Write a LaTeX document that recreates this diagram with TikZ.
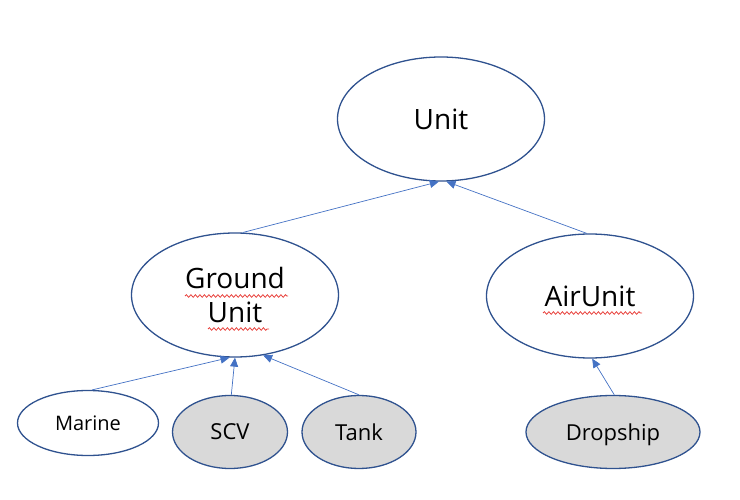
\documentclass[tikz,border=0pt]{standalone}
\usepackage{fontspec}
\setmainfont{Open Sans}
\usetikzlibrary{shapes,arrows.meta,positioning,calc,decorations.pathmorphing}
\definecolor{ovalblue}{HTML}{2F528F}
\definecolor{arrowblue}{HTML}{4472C4}
\definecolor{ovalgray}{HTML}{D9D9D9}
\definecolor{spellred}{HTML}{E8413C}

\begin{document}
\begin{tikzpicture}[x=1pt, y=1pt, ->, >={Triangle[length=9pt,width=8pt]},
line width = 0.7pt, node distance = 176pt,
class/.style={ellipse, draw=ovalblue, line width=1.3pt, inner sep=0pt,
  align=center, font=\fontsize{28}{34}\selectfont,
  minimum width=207pt, minimum height=124pt},
leaf/.style={ellipse, draw=ovalblue, line width=1.3pt, inner sep=0pt,
  text depth=0pt, font=\fontsize{22}{26}\selectfont, minimum height=73pt},
isa/.style={draw=arrowblue},
squiggle/.style={-, draw=spellred, line width=0.8pt, decorate,
  decoration={snake, amplitude=1.3pt, segment length=4.5pt}}]

\useasboundingbox (0,-500) rectangle (740,0);

\node [class] (unit) at (441,-119) {Unit};
\node [class] (ground) [below of=unit, xshift=-206pt] {Ground\\Unit};
\node [class] (air) [below of=unit, xshift=149pt, yshift=-1pt] {AirUnit};

\node [leaf, fill=white, minimum width=141pt, minimum height=65pt,
  font=\fontsize{20}{24}\selectfont]
  (marine) [node distance=128pt, below of=ground, xshift=-147pt] {Marine};
\node [leaf, fill=ovalgray, minimum width=115pt]
  (scv) [node distance=137pt, below of=ground, xshift=-5pt] {SCV};
\node [leaf, fill=ovalgray, minimum width=114pt]
  (tank) [node distance=137pt, below of=ground, xshift=124pt] {Tank};
\node [leaf, fill=ovalgray, minimum width=174pt]
  (dropship) [node distance=136pt, below of=air, xshift=23pt] {Dropship};

\path (ground.83) edge [isa] (unit.-92);
\path (air.93) edge [isa] (unit.-85);

\path (marine.83) edge [isa] (ground.-95);
\path (scv.88) edge [isa] (ground.-90);
\path (tank.90) edge [isa] (ground.-65);

\path (dropship.88) edge [isa] (air.-88);

% spell check marks
\draw [squiggle] ($(ground)+(-50,-1)$) -- ($(ground)+(53,-1)$);
\draw [squiggle] ($(ground)+(-27,-34)$) -- ($(ground)+(34,-34)$);
\draw [squiggle] ($(air)+(-47,-17)$) -- ($(air)+(52,-17)$);

\end{tikzpicture}
\end{document}
